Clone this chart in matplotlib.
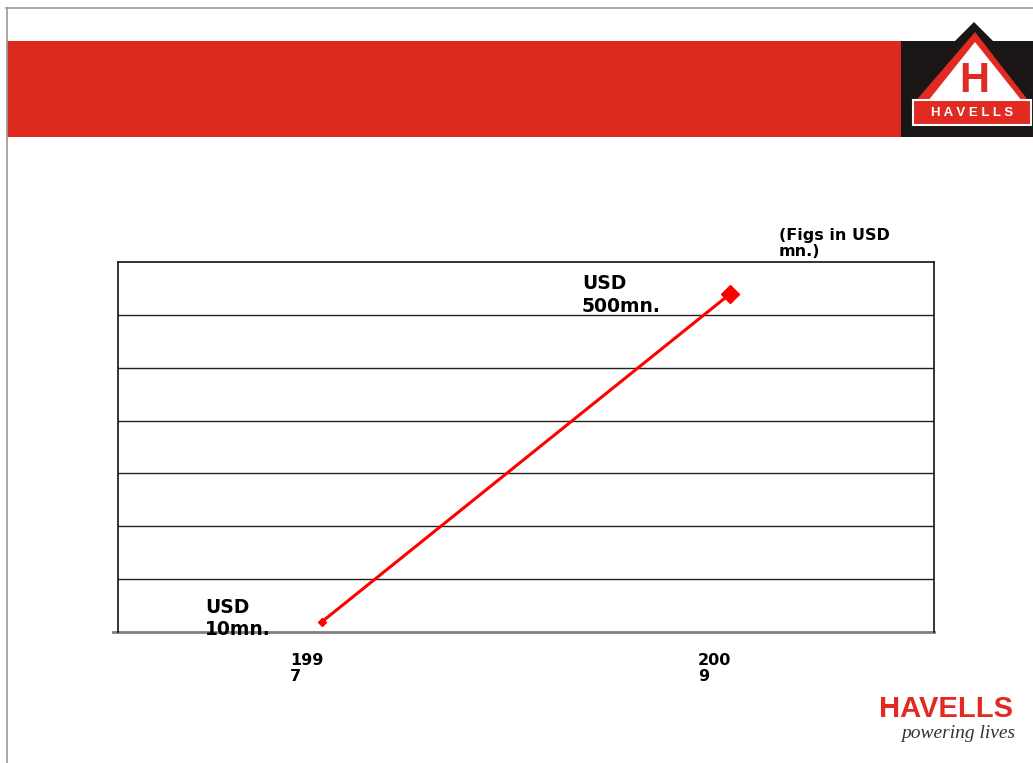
import numpy as np
import matplotlib.pyplot as plt
from matplotlib.patches import Polygon, Rectangle
from matplotlib.lines import Line2D

# data
years = ["1997", "2009"]
tick_labels = ["199\n7", "200\n9"]
revenue = [10, 500]          # USD mn
point_labels = ["USD\n10mn.", "USD\n500mn."]
marker_sizes = [4, 9]

W, H = 1033, 763
fig = plt.figure(figsize=(W / 100, H / 100), dpi=100)
fig.patch.set_facecolor("white")


def fx(px):
    return px / W


def fy(py):
    return 1 - py / H


# slide frame lines
fig.add_artist(Line2D([fx(6), 1], [fy(8), fy(8)], color="#999999", lw=1.2))
fig.add_artist(Line2D([fx(6.5), fx(6.5)], [fy(8), 0], color="#999999", lw=1.2))

# red header band
fig.add_artist(Rectangle((fx(7), fy(137)), fx(901) - fx(7), fy(41) - fy(137),
                         facecolor="#dd2a1f", edgecolor="none"))

# top-right logo block
black_house = [(901, 41), (955, 41), (974, 22), (993, 41), (1033, 41),
               (1033, 137), (901, 137)]
fig.add_artist(Polygon([(fx(x), fy(y)) for x, y in black_house], closed=True,
                       facecolor="#1a1616", edgecolor="none"))
red_tri = [(975, 32), (1031, 104), (913, 104)]
fig.add_artist(Polygon([(fx(x), fy(y)) for x, y in red_tri], closed=True,
                       facecolor="#e02a22", edgecolor="none"))
white_tri = [(975, 42), (1022, 101), (928, 101)]
fig.add_artist(Polygon([(fx(x), fy(y)) for x, y in white_tri], closed=True,
                       facecolor="white", edgecolor="none"))
fig.text(fx(974), fy(81), "H", color="#e02a22", fontsize=30, fontweight="bold",
         family="Liberation Sans", ha="center", va="center")
fig.add_artist(Rectangle((fx(913), fy(125)), fx(1031) - fx(913), fy(100) - fy(125),
                         facecolor="#e02a22", edgecolor="white", lw=1.5))
fig.text(fx(972), fy(112.5), "H A V E L L S", color="white", fontsize=9.5,
         fontweight="bold", family="Liberation Sans", ha="center", va="center")

# bottom-right logo
fig.text(fx(946), fy(709), "HAVELLS", color="#e02a22", fontsize=21,
         fontweight="bold", family="Liberation Sans", ha="center", va="center")
fig.text(fx(958), fy(734), "powering lives", color="#333333", fontsize=14,
         style="italic", family="Liberation Serif", ha="center", va="center")

# chart
ax = fig.add_axes([fx(118), fy(632), fx(934) - fx(118), fy(262) - fy(632)])
x = np.arange(len(years))
ax.set_xlim(-0.5, len(years) - 0.5)
ax.set_ylim(-5.4, 547.8)

for yv in np.linspace(-5.4, 547.8, 8)[1:-1]:
    ax.axhline(yv, color="#222222", lw=1, zorder=1)

ax.plot(x, revenue, color="#ff0000", lw=2.2, zorder=3)
for i in range(len(years)):
    ax.plot(x[i], revenue[i], marker="D", color="#ff0000",
            markersize=marker_sizes[i], zorder=4)

for s in ["left", "top", "right"]:
    ax.spines[s].set_color("#111111")
    ax.spines[s].set_linewidth(1.2)
ax.spines["bottom"].set_visible(False)
ax.add_line(Line2D([-0.006, 1], [0, 0], transform=ax.transAxes, color="#808080",
                   lw=2, clip_on=False, zorder=2))
ax.set_xticks([])
ax.set_yticks([])

label_offsets = [(-117, 24), (-148, 20)]
for i in range(len(years)):
    ax.annotate(point_labels[i], xy=(x[i], revenue[i]), xytext=label_offsets[i],
                textcoords="offset pixels", ha="left", va="top", fontsize=13.5,
                fontweight="bold", linespacing=1.25, zorder=5)
    ax.annotate(tick_labels[i], xy=(x[i], 0), xycoords=ax.get_xaxis_transform(),
                xytext=(-32, -21), textcoords="offset pixels", ha="left",
                va="top", fontsize=11.5, fontweight="bold", linespacing=1.05,
                annotation_clip=False)

fig.text(fx(779), fy(228), "(Figs in USD\nmn.)", fontsize=11.5, fontweight="bold",
         ha="left", va="top", linespacing=1.05)

fig.savefig("out.png", dpi=100)
